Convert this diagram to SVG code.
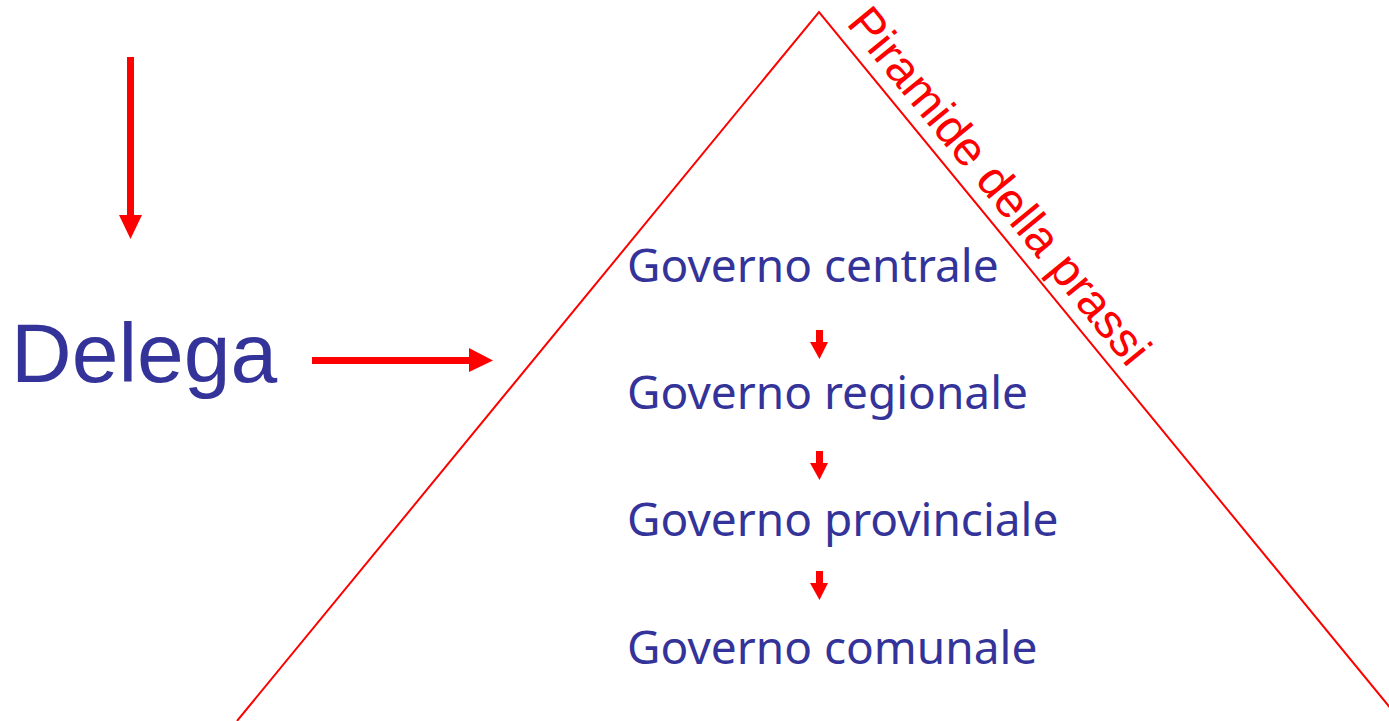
<svg xmlns="http://www.w3.org/2000/svg" width="1389" height="721" viewBox="0 0 1389 721">
<style>
.lbl{font-family:"Noto Sans","Open Sans",sans-serif;font-size:46px;fill:#333399}
.arr{fill:#ff0000}
</style>
<rect width="1389" height="721" fill="#ffffff"/>
<g id="pyramid">
<polyline points="237,721 819,12 1401,721" fill="none" stroke="#ff0000" stroke-width="2"/>
<text transform="translate(819,12) rotate(50.67)" x="26" y="-13" font-family="'Liberation Sans',Arial,sans-serif" font-size="48" fill="#ff0000" textLength="446" lengthAdjust="spacing">Piramide della prassi</text>
</g>
<g id="delega">
<text x="11" y="382" font-family="'Liberation Sans',Arial,sans-serif" font-size="84" fill="#333399">Delega</text>
</g>
<g id="gov-centrale"><text class="lbl" x="627" y="282">Governo centrale</text></g>
<g id="gov-regionale"><text class="lbl" x="627" y="409">Governo regionale</text></g>
<g id="gov-provinciale"><text class="lbl" x="627" y="536">Governo provinciale</text></g>
<g id="gov-comunale"><text class="lbl" x="627" y="664">Governo comunale</text></g>
<g id="connectors">
<polygon class="arr" points="127,57 134,57 134,215 142,215 130.5,239 119,215 127,215"/>
<polygon class="arr" points="312,357 469,357 469,348 493,360.5 469,372 469,364 312,364"/>
<polygon class="arr" points="816,330 823,330 823,342 828,342 819.5,359 810,342 816,342"/>
<polygon class="arr" points="816,451 823,451 823,463 828,463 819.5,480 810,463 816,463"/>
<polygon class="arr" points="816,571 823,571 823,583 828,583 819.5,600 810,583 816,583"/>
</g>
</svg>
